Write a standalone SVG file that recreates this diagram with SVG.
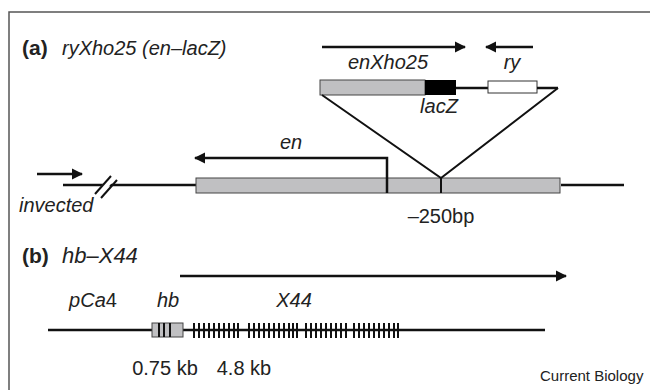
<svg xmlns="http://www.w3.org/2000/svg" width="650" height="390" viewBox="0 0 650 390">
<style>
.t{font-family:"Liberation Sans",Arial,sans-serif;font-size:20px;fill:#222}
.i{font-style:italic}
.b{font-weight:bold;font-size:21px}
.ln{stroke:#111;stroke-width:2.5;fill:none}
.thin{stroke:#111;stroke-width:2;fill:none}
.box{fill:#c0c0c2;stroke:#444;stroke-width:1}
.tick{stroke:#111;stroke-width:2}
</style>
<defs>
<marker id="ah" viewBox="0 0 10 10" refX="9" refY="5" markerWidth="4.5" markerHeight="4.5" orient="auto" markerUnits="strokeWidth"><path d="M0,0 L10,5 L0,10 z" fill="#111"/></marker>
</defs>
<rect x="0" y="0" width="650" height="390" fill="#fff"/>
<path d="M9,390 V12 H650" fill="none" stroke="#555" stroke-width="1.5"/>
<g id="titles">
<text class="t b" x="22" y="55">(a)</text>
<text class="t i" x="62" y="55">ryXho25 (en–lacZ)</text>
<text class="t b" x="22" y="263">(b)</text>
<text class="t i" x="62" y="263" style="font-size:22px">hb–X44</text>
<text class="t" x="540" y="381" style="font-size:15px">Current Biology</text>
</g>
<g id="construct">
<rect class="box" x="320" y="80" width="105" height="15"/>
<rect x="425" y="80" width="31" height="15" fill="#000"/>
<line class="ln" x1="456" y1="88" x2="488" y2="88"/>
<rect x="488" y="81" width="49" height="12" fill="#fff" stroke="#333" stroke-width="1"/>
<line class="ln" x1="537" y1="88" x2="558" y2="88"/>
<text class="t i" x="388" y="69" text-anchor="middle">enXho25</text>
<text class="t i" x="512" y="69" text-anchor="middle">ry</text>
<text class="t i" x="439" y="113" text-anchor="middle">lacZ</text>
</g>
<g id="locus-a">
<line class="ln" x1="63" y1="185" x2="196" y2="185"/>
<rect class="box" x="196" y="178" width="364" height="15"/>
<line class="ln" x1="561" y1="185" x2="624" y2="185"/>
<line x1="96" y1="197" x2="112" y2="178" stroke="#fff" stroke-width="6"/>
<line class="thin" x1="95" y1="194" x2="111" y2="176"/>
<line class="thin" x1="101" y1="198" x2="117" y2="180"/>
<line class="thin" x1="441" y1="178" x2="441" y2="193"/>
<text class="t i" x="19" y="212">invected</text>
<text class="t i" x="291" y="149" text-anchor="middle">en</text>
<text class="t" x="441" y="223" text-anchor="middle">–250bp</text>
</g>
<g id="locus-b">
<line class="ln" x1="48" y1="330" x2="545" y2="330"/>
<rect class="box" x="152" y="323" width="31" height="14"/>
<line class="tick" x1="159" y1="323" x2="159" y2="337"/>
<line class="tick" x1="164" y1="323" x2="164" y2="337"/>
<line class="tick" x1="170" y1="323" x2="170" y2="337"/>
<path class="tick" d="M194,323v15M199,323v15M204,323v15M209,323v15M214,323v15M219,323v15M224,323v15M229,323v15M234,323v15M238,323v15
M249,323v15M254,323v15M259,323v15M264,323v15M269,323v15M274,323v15M279,323v15M284,323v15M289,323v15M293,323v15M297,323v15
M306,323v15M311,323v15M316,323v15M321,323v15M326,323v15M331,323v15M336,323v15M341,323v15M346,323v15
M354,323v15M359,323v15M364,323v15M369,323v15M374,323v15M379,323v15M384,323v15M389,323v15M394,323v15M398,323v15"/>
<text class="t i" x="93" y="307" text-anchor="middle">pCa<tspan font-style="normal">4</tspan></text>
<text class="t i" x="168" y="307" text-anchor="middle">hb</text>
<text class="t i" x="294" y="307" text-anchor="middle">X44</text>
<text class="t" x="165" y="375" text-anchor="middle">0.75 kb</text>
<text class="t" x="244" y="375" text-anchor="middle">4.8 kb</text>
</g>
<g id="connectors">
<line class="ln" x1="322" y1="47" x2="465" y2="47" marker-end="url(#ah)"/>
<line class="ln" x1="533" y1="47" x2="486" y2="47" marker-end="url(#ah)"/>
<line class="ln" x1="37" y1="174" x2="82" y2="174" marker-end="url(#ah)"/>
<path class="ln" d="M387,193 V158 H195" marker-end="url(#ah)"/>
<path class="thin" d="M322,95 L441,178 L558,88"/>
<line class="ln" x1="180" y1="276" x2="566" y2="276" marker-end="url(#ah)"/>
</g>
</svg>
